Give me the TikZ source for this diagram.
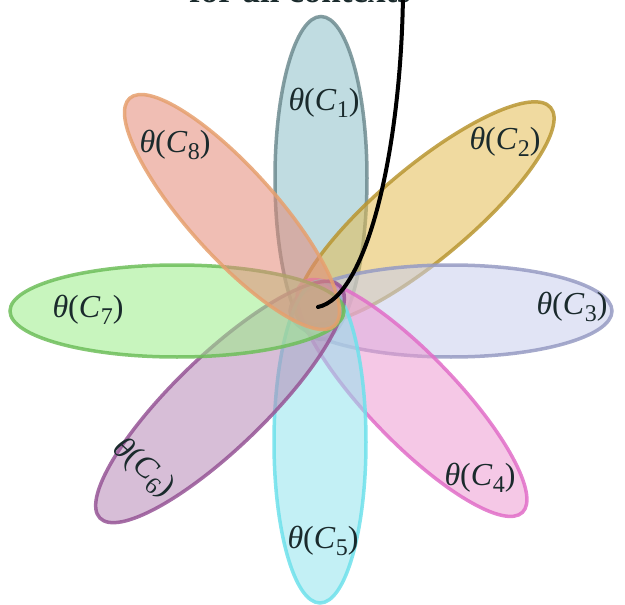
\documentclass[tikz,border=0pt]{standalone}
\usepackage{fontspec}
\setmainfont{Liberation Serif}
\usetikzlibrary{shapes.geometric}
\definecolor{f1}{RGB}{140,191,200}\definecolor{s1}{RGB}{110,140,145}
\definecolor{f2}{RGB}{228,188,82}\definecolor{s2}{RGB}{185,150,50}
\definecolor{f3}{RGB}{200,206,237}\definecolor{s3}{RGB}{150,155,195}
\definecolor{f4}{RGB}{237,155,210}\definecolor{s4}{RGB}{225,110,200}
\definecolor{f5}{RGB}{146,227,237}\definecolor{s5}{RGB}{110,225,235}
\definecolor{f6}{RGB}{182,137,182}\definecolor{s6}{RGB}{150,85,150}
\definecolor{f7}{RGB}{155,237,137}\definecolor{s7}{RGB}{110,190,90}
\definecolor{f8}{RGB}{228,137,119}\definecolor{s8}{RGB}{230,160,110}
\definecolor{ink}{RGB}{26,42,44}
\newcommand\thlab[1]{\textit{θ}(\textit{C}\kern0.01em\raisebox{-0.2em}{\fontsize{24}{24}\selectfont #1})}
\tikzset{
  petal/.style={ellipse, inner sep=0pt, outer sep=0pt, line width=3.5pt,
    fill opacity=0.55, draw opacity=0.85, minimum height=92pt},
  lab/.style={text=ink, font=\fontsize{32}{32}\selectfont, inner sep=0pt}
}
\begin{document}
\begin{tikzpicture}[x=1pt,y=-1pt]
\useasboundingbox (0,0) rectangle (625,605);
\node[petal, draw=s1, fill=f1, minimum width=323pt, rotate=90] (p1) at (321,178) {};
\node[petal, draw=s2, fill=f2, minimum width=328pt, rotate=40] (p2) at (425,213) {};
\node[petal, draw=s3, fill=f3, minimum width=322pt, rotate=0] (p3) at (451,311) {};
\node[petal, draw=s4, fill=f4, minimum width=318pt, rotate=-46, minimum height=88pt] (p4) at (412,398) {};
\node[petal, draw=s5, fill=f5, minimum width=322pt, rotate=90] (p5) at (320,442) {};
\node[petal, draw=s6, fill=f6, minimum width=334pt, rotate=-136] (p6) at (220,402) {};
\node[petal, draw=s7, fill=f7, minimum width=334pt, rotate=0] (p7) at (177,311) {};
\node[petal, draw=s8, fill=f8, minimum width=306pt, rotate=132, minimum height=88pt] (p8) at (232,212) {};
\node[lab] (l1) at (324,103) {\thlab{1}};
\node[lab] (l2) at (505,142) {\thlab{2}};
\node[lab] (l3) at (572,307) {\thlab{3}};
\node[lab] (l4) at (480,478) {\thlab{4}};
\node[lab] (l5) at (323,541) {\thlab{5}};
\node[lab, rotate=-42] (l6) at (143,468) {\thlab{6}};
\node[lab] (l7) at (88,310) {\thlab{7}};
\node[lab] (l8) at (175,145) {\thlab{8}};
\node[text=ink, font=\bfseries\fontsize{35}{35}\selectfont, anchor=base, inner sep=0pt] (top) at (300,2.2) {for all contexts};
\coordinate (cs) at (318,307);
\coordinate (ce) at (403,-5);
\draw[line width=4pt, line cap=round, black] (cs) .. controls (367,297) and (401,150) .. (ce);
\end{tikzpicture}
\end{document}
